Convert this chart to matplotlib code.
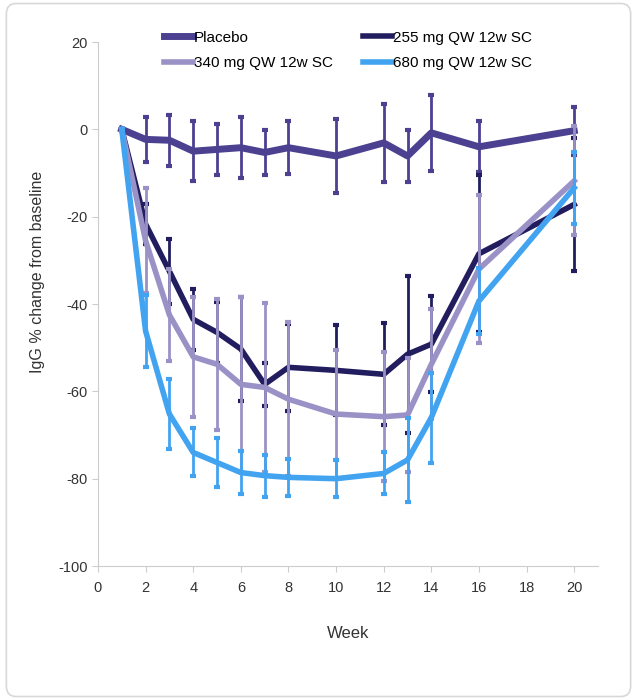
import numpy as np
import matplotlib
matplotlib.use("Agg")
import matplotlib.pyplot as plt
from matplotlib.patches import FancyBboxPatch

plt.rcParams["axes.unicode_minus"] = False
plt.rcParams["font.family"] = ["Liberation Sans", "DejaVu Sans"]

# data
weeks = [1, 2, 3, 4, 5, 6, 7, 8, 10, 12, 13, 14, 16, 20]

placebo = [0, -2.3, -2.5, -5.0, -4.6, -4.2, -5.3, -4.2, -6.1, -3.1, -6.1, -0.8, -4.0, -0.3]
placebo_err = [0, 5.2, 5.8, 6.8, 5.9, 7.0, 5.2, 6.1, 8.4, 8.9, 6.0, 8.7, 5.8, 5.5]

mg255 = [0, -21.7, -32.5, -43.5, -46.5, -50.3, -58.4, -54.5, -55.2, -56.1, -51.5, -49.2, -28.5, -17.2]
mg255_err = [0, 4.5, 7.5, 7.0, 7.0, 12.0, 5.0, 10.0, 10.3, 11.7, 18.0, 11.0, 18.0, 15.2]

mg340 = [0, -25.5, -42.5, -52.1, -53.8, -58.4, -59.1, -61.8, -65.2, -65.8, -65.4, -53.8, -32.0, -11.8]
mg340_err = [0, 12.0, 10.5, 13.7, 15.0, 20.0, 19.4, 17.6, 14.7, 14.7, 13.0, 12.6, 17.0, 12.5]

mg680 = [0, -46.2, -65.2, -74.0, -76.3, -78.6, -79.3, -79.7, -80.0, -78.8, -75.7, -66.0, -39.3, -13.4]
mg680_err = [0, 8.3, 8.0, 5.5, 5.6, 5.0, 4.8, 4.3, 4.3, 4.8, 9.7, 10.3, 7.5, 8.3]

labels = ["Placebo", "255 mg QW 12w SC", "340 mg QW 12w SC", "680 mg QW 12w SC"]
colors = ["#4b4190", "#211d5e", "#9a92c6", "#42a4f0"]

fig = plt.figure(figsize=(6.37, 7), dpi=100)
fig.patches.append(FancyBboxPatch((0.01, 0.005), 0.98, 0.99, boxstyle="round,pad=0,rounding_size=0.015",
                                  transform=fig.transFigure, fill=False, edgecolor="#d8d8d8", linewidth=1.2))

ax = fig.add_axes([0.1538, 0.1914, 0.785, 0.7486])

series = [(placebo, placebo_err), (mg255, mg255_err), (mg340, mg340_err), (mg680, mg680_err)]
widths = [5, 4, 4, 4]
handles = []
for (vals, errs), c, lab, lw in zip(series, colors, labels, widths):
    ax.errorbar(weeks, vals, yerr=errs, color=c, lw=0, elinewidth=2, capsize=2.5, capthick=3)
    line, = ax.plot(weeks, vals, color=c, lw=lw, label=lab, solid_joinstyle="round")
    handles.append(line)

ax.set_xlim(0, 21)
ax.set_ylim(-100, 20)
ax.set_xticks(np.arange(0, 21, 2))
ax.set_yticks(np.arange(-100, 21, 20))
for s in ["top", "right"]:
    ax.spines[s].set_visible(False)
for s in ["left", "bottom"]:
    ax.spines[s].set_color("#cccccc")
ax.tick_params(colors="#cccccc", length=4, labelcolor="#333333", labelsize=10.5)
ax.tick_params(axis="x", pad=7)

ax.set_xlabel("Week", fontsize=12, color="#333333", labelpad=22)
fig.text(38 / 637, 1 - 272 / 700, "IgG % change from baseline", rotation=90, ha="center", va="center",
         fontsize=11.5, color="#333333")

order = [handles[0], handles[2], handles[1], handles[3]]
fig.legend(order, [h.get_label() for h in order], ncol=2, loc="upper left",
           bbox_to_anchor=(150 / 637, 1 - 17 / 700), frameon=False, handlelength=1.9,
           columnspacing=2.0, handletextpad=0.05, labelspacing=0.75,
           prop={"size": 11})

fig.savefig("out.png", dpi=100)
